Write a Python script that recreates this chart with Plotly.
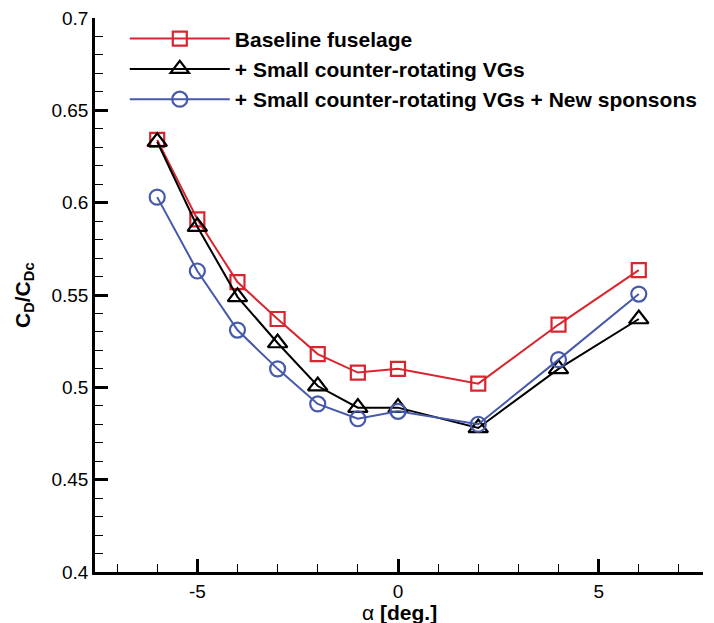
import plotly.graph_objects as go

alpha = [-6, -5, -4, -3, -2, -1, 0, 2, 4, 6]
baseline = [0.634, 0.591, 0.557, 0.537, 0.518, 0.508, 0.510, 0.502, 0.534, 0.5635]
small_vgs = [0.633, 0.587, 0.549, 0.524, 0.5007, 0.489, 0.489, 0.478, 0.510, 0.537]
vgs_sponsons = [0.603, 0.563, 0.531, 0.510, 0.491, 0.483, 0.487, 0.480, 0.515, 0.5505]

names = ["Baseline fuselage",
         "+ Small counter-rotating VGs",
         "+ Small counter-rotating VGs + New sponsons"]
colors = ["#d7262e", "#000000", "#4659ab"]
symbols = ["square-open", "triangle-up-open", "circle-open"]
sizes = [14, 17, 15]

ytickvals = [0.4, 0.45, 0.5, 0.55, 0.6, 0.65, 0.7]
yticktext = ["0.4", "0.45", "0.5", "0.55", "0.6", "0.65", "0.7"]
xtickvals = [-5, 0, 5]
xticktext = ["-5", "0", "5"]
x_title = "α <b>[deg.]</b>"
y_title = "<b>C<sub>D</sub>/C<sub>Dc</sub></b>"

FONT = "Liberation Sans, Arial, Helvetica, sans-serif"

fig = go.Figure()
for name, ys, c, s, sz in zip(names, [baseline, small_vgs, vgs_sponsons], colors, symbols, sizes):
    fig.add_trace(go.Scatter(
        x=alpha, y=ys, name=name, mode="lines+markers",
        line=dict(color=c, width=2),
        marker=dict(symbol=s, size=sz, color=c, line=dict(color=c, width=2.2)),
    ))

fig.update_layout(
    width=706, height=615,
    margin=dict(l=87, r=11, t=10, b=51, autoexpand=False),
    paper_bgcolor="white", plot_bgcolor="white",
    font=dict(family=FONT, color="black", size=18),
    showlegend=True,
    legend=dict(
        x=0.049, y=0.9992, xanchor="left", yanchor="top",
        bgcolor="rgba(0,0,0,0)",
        font=dict(family=FONT, size=21, weight="bold", color="black"),
        tracegroupgap=0, itemwidth=100,
    ),
    xaxis=dict(
        range=[-7.55, 7.6], showgrid=False, zeroline=False, automargin=False,
        showline=True, linecolor="black", linewidth=2.5,
        tickmode="array", tickvals=xtickvals, ticktext=xticktext,
        ticks="inside", ticklen=13, tickwidth=2.5, tickcolor="black",
        minor=dict(dtick=1, tick0=0, ticks="inside", ticklen=8, tickwidth=1.2, tickcolor="black", showgrid=False),
        tickfont=dict(size=19), ticklabeloverflow="allow",
    ),
    yaxis=dict(
        range=[0.4, 0.7], showgrid=False, zeroline=False, automargin=False,
        showline=True, linecolor="black", linewidth=2.5,
        tickmode="array", tickvals=ytickvals, ticktext=yticktext,
        ticks="inside", ticklen=13, tickwidth=2.5, tickcolor="black",
        minor=dict(dtick=0.01, tick0=0.4, ticks="inside", ticklen=8, tickwidth=1.2, tickcolor="black", showgrid=False),
        tickfont=dict(size=19), ticklabeloverflow="allow",
    ),
    annotations=[
        dict(text=x_title, xref="paper", yref="paper", x=0.5, y=0, xanchor="center", yanchor="middle",
             yshift=-40, showarrow=False, font=dict(family=FONT, size=21, color="black")),
        dict(text=y_title, xref="paper", yref="paper", x=0, y=0.5, xanchor="center", yanchor="middle",
             xshift=-71, showarrow=False, textangle=-90, font=dict(family=FONT, size=21, color="black")),
    ],
)

fig.write_html("out.html")
